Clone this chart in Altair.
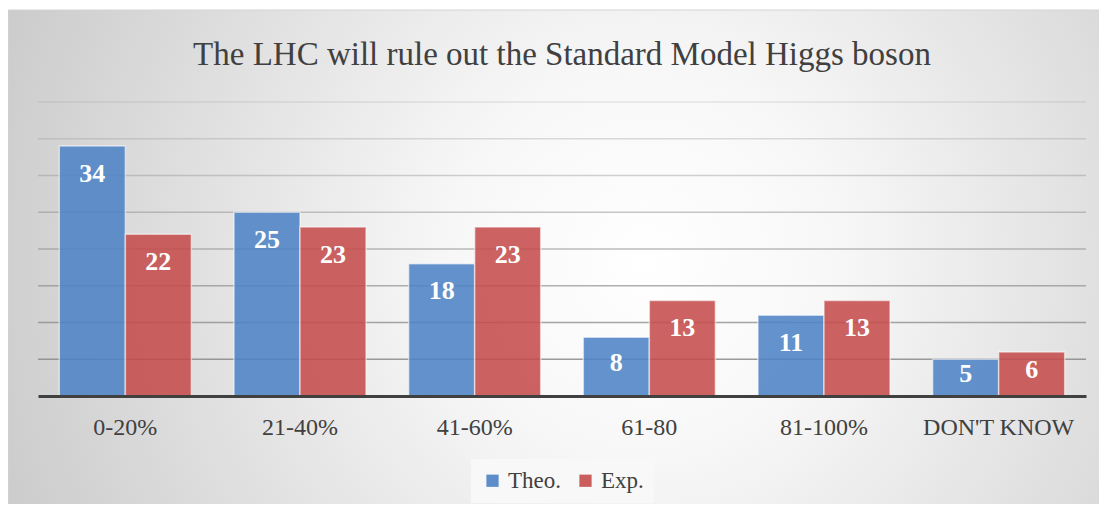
import altair as alt
import pandas as pd

categories = ["0-20%", "21-40%", "41-60%", "61-80", "81-100%", "DON'T KNOW"]
theo = [34, 25, 18, 8, 11, 5]
exp = [22, 23, 23, 13, 13, 6]
series_names = ["Theo.", "Exp."]
grid_values = [5, 10, 15, 20, 25, 30, 35, 40]

rows = []
for c, t, e in zip(categories, theo, exp):
    rows.append({"cat": c, "series": "Theo.", "value": t})
    rows.append({"cat": c, "series": "Exp.", "value": e})
df = pd.DataFrame(rows)

W, H = 1048, 294
FONT = "Liberation Serif"

yscale = alt.Scale(domain=[0, 40])
xenc = alt.X("cat:N", sort=categories,
             scale=alt.Scale(paddingInner=0.244, paddingOuter=0.122),
             axis=alt.Axis(title=None, labelAngle=0, ticks=False, grid=False,
                           domain=True, domainColor="#404040", domainWidth=3,
                           labelFontSize=24, labelFont=FONT, labelColor="#404040",
                           labelPadding=19, zindex=1))
xoff = alt.XOffset("series:N", sort=series_names)

bg = alt.Chart(pd.DataFrame({"a": [0]})).mark_rect(
    fill={"gradient": "radial", "x1": 0.58, "y1": 0.5, "r1": 0,
          "x2": 0.58, "y2": 0.5, "r2": 0.72,
          "stops": [{"offset": 0, "color": "#ffffff"},
                    {"offset": 0.25, "color": "#f7f7f7"},
                    {"offset": 1, "color": "#c2c2c2"}]},
    stroke="#d4d4d4", strokeWidth=1
).encode(x=alt.value(-30), x2=alt.value(1069), y=alt.value(-92), y2=alt.value(410))

grid = alt.Chart(pd.DataFrame({"v": grid_values})).mark_rule(
    color="#8a8a8a", strokeWidth=1.5
).encode(
    y=alt.Y("v:Q", scale=yscale, axis=None),
    opacity=alt.Opacity("v:Q", scale=alt.Scale(domain=[5, 40], range=[0.85, 0.2]), legend=None),
)

bars = alt.Chart(df).mark_bar(
    fillOpacity=0.87, stroke="#ffffff", strokeOpacity=0.55, strokeWidth=1.5
).encode(
    x=xenc,
    xOffset=xoff,
    y=alt.Y("value:Q", scale=yscale, axis=None),
    color=alt.Color("series:N", sort=series_names,
                    scale=alt.Scale(domain=series_names, range=["#4c82c4", "#c44c4b"]),
                    legend=alt.Legend(title=None, orient="none", legendX=433, legendY=357,
                                      direction="horizontal", fillColor="#f8f8f8",
                                      padding=10, symbolType="square", symbolSize=150,
                                      symbolStrokeWidth=0, labelFontSize=23, labelFont=FONT,
                                      labelColor="#404040", columnPadding=12,
                                      symbolOpacity=0.9)),
)

labels = alt.Chart(df).transform_calculate(
    ly="max(datum.value - 3.75, datum.value / 2 + 0.5)"
).mark_text(
    font=FONT, fontWeight="bold", fontSize=26, color="white",
    baseline="middle", align="center"
).encode(
    x=xenc,
    xOffset=xoff,
    y=alt.Y("ly:Q", scale=yscale, axis=None),
    text=alt.Text("value:Q"),
)

chart = alt.layer(bg, grid, bars, labels).properties(
    width=W, height=H,
    title=alt.TitleParams("The LHC will rule out the Standard Model Higgs boson",
                          font=FONT, fontSize=33, fontWeight="normal", color="#404040",
                          anchor="middle", frame="group", baseline="alphabetic", offset=-88),
    padding={"left": 30, "top": 94, "right": 13, "bottom": 108},
    autosize=alt.AutoSizeParams(type="none"),
).configure_view(stroke=None)

chart.save("out.html", embed_options={"renderer": "svg", "actions": False})
